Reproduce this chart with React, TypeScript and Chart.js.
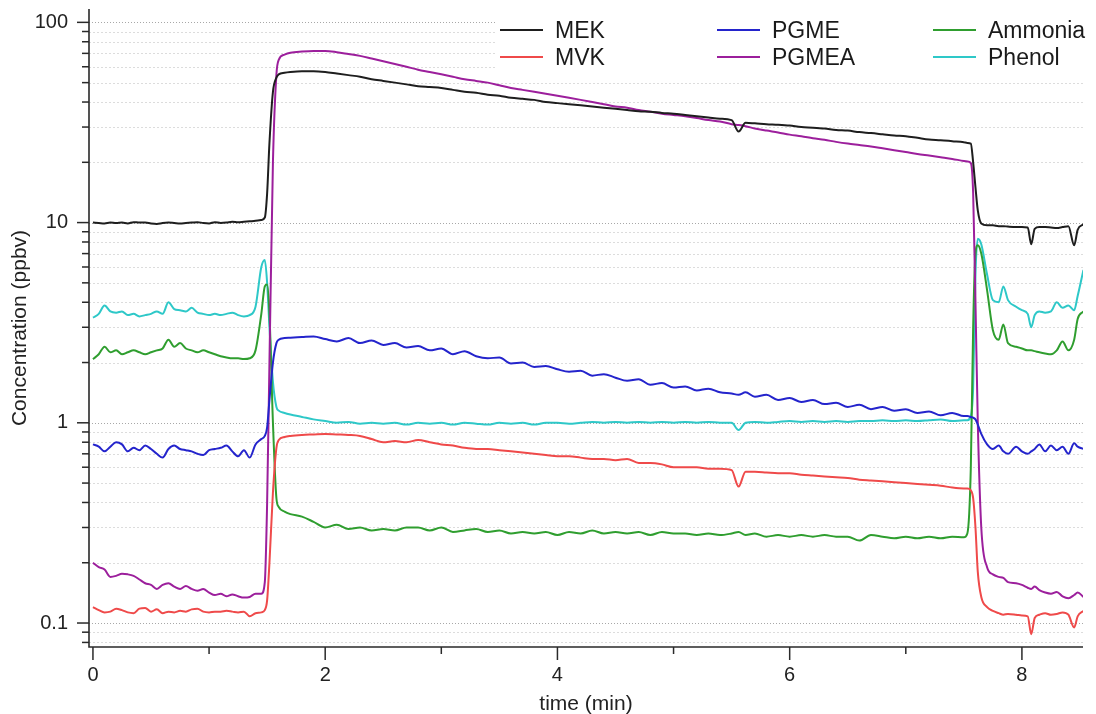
import React, { useEffect, useRef } from "react";
import { Chart, registerables } from "chart.js";

Chart.register(...registerables);

const FONT = "'Liberation Sans', Arial, Helvetica, sans-serif";

// time (min)
const time = [
  0, 0.05, 0.1, 0.15, 0.2, 0.25, 0.3, 0.35, 0.4, 0.45, 0.5, 0.55, 0.6, 0.65, 0.7, 0.75, 0.8, 0.85, 0.9, 0.95, 1, 1.05, 1.1, 1.15, 1.2, 1.25, 1.3, 1.35, 1.4,
  1.45, 1.48, 1.5, 1.52, 1.55, 1.58, 1.6, 1.65, 1.7, 1.8,
  1.9, 2, 2.1, 2.2, 2.3, 2.4, 2.5, 2.6, 2.7, 2.8, 2.9, 3, 3.1, 3.2, 3.3, 3.4, 3.5, 3.6, 3.7, 3.8, 3.9, 4, 4.1, 4.2, 4.3, 4.4, 4.5, 4.6, 4.7, 4.8, 4.9, 5, 5.1, 5.2, 5.3, 5.4,
  5.5, 5.56, 5.62, 5.7, 5.8, 5.9, 6, 6.1, 6.2, 6.3, 6.4, 6.5, 6.6, 6.7, 6.8, 6.9, 7, 7.1, 7.2, 7.3, 7.4, 7.5,
  7.53, 7.56, 7.58, 7.6, 7.62, 7.65, 7.7, 7.75, 7.8, 7.84, 7.88, 7.95, 8, 8.05, 8.08, 8.11, 8.15, 8.2, 8.25, 8.3, 8.35, 8.4, 8.45, 8.48, 8.53,
];

const mek = [
  10, 9.95, 9.9, 10, 9.95, 10, 9.9, 10.05, 10, 10, 9.9, 9.85, 9.95, 10, 9.95, 9.9, 9.95, 10, 10.05, 9.95, 9.9, 10.05, 9.95, 10, 10.1, 10.05, 10.1, 10.15, 10.2,
  10.3, 10.6, 14, 25, 45, 53, 55, 56, 56.5, 57,
  57, 56.5, 55.5, 54.5, 53.5, 52, 51, 50, 49, 48, 47.5, 47, 46, 45, 44.5, 43.5, 43, 42, 41.5, 41, 40, 39.5, 39, 38.5, 38, 37.5, 37, 36.5, 36, 35.8, 35.3, 35, 34.5, 34, 33.5, 33,
  32.5, 28.5, 31.5, 31.3, 31, 30.8, 30.5, 30, 29.8, 29.5, 29, 28.8, 28.3, 28, 27.6, 27.2, 27, 26.5, 26, 25.8, 25.5, 25.2,
  25, 24.8, 20, 15, 11.5, 9.9, 9.7, 9.7, 9.6, 9.6, 9.55, 9.5, 9.5, 9.45, 7.8, 9.3, 9.5, 9.5, 9.45, 9.4, 9.5, 9.6, 7.7, 9.2, 9.8,
];

const mvk = [
  0.12, 0.116, 0.113, 0.114, 0.118, 0.116, 0.113, 0.112, 0.118, 0.119, 0.114, 0.117, 0.112, 0.114, 0.113, 0.115, 0.114, 0.117, 0.118, 0.114, 0.113, 0.114, 0.114, 0.115, 0.114, 0.113, 0.114, 0.108, 0.112,
  0.113, 0.116, 0.13, 0.2, 0.45, 0.75, 0.82, 0.85, 0.86, 0.87,
  0.875, 0.88, 0.875, 0.87, 0.86, 0.83, 0.8, 0.81, 0.8, 0.82, 0.8, 0.78, 0.77, 0.75, 0.74, 0.74, 0.73, 0.72, 0.71, 0.7, 0.69, 0.68, 0.68, 0.67, 0.66, 0.66, 0.65, 0.66, 0.63, 0.63, 0.62, 0.6, 0.6, 0.6, 0.59, 0.59,
  0.58, 0.48, 0.57, 0.57, 0.565, 0.56, 0.56, 0.55, 0.545, 0.54, 0.535, 0.53, 0.52, 0.515, 0.51, 0.505, 0.5, 0.495, 0.49, 0.485, 0.475, 0.47,
  0.47, 0.46, 0.42, 0.3, 0.18, 0.135, 0.12, 0.115, 0.112, 0.11, 0.111, 0.11, 0.109, 0.108, 0.088, 0.106, 0.11, 0.112, 0.11, 0.111, 0.113, 0.11, 0.095, 0.108, 0.115,
];

const pgme = [
  0.78, 0.76, 0.72, 0.76, 0.8, 0.78, 0.72, 0.75, 0.73, 0.77, 0.74, 0.7, 0.67, 0.74, 0.77, 0.74, 0.73, 0.72, 0.7, 0.69, 0.73, 0.74, 0.75, 0.77, 0.72, 0.68, 0.73, 0.67, 0.78,
  0.83, 0.86, 0.95, 1.3, 2.0, 2.5, 2.6, 2.65, 2.66, 2.68,
  2.7, 2.62, 2.55, 2.65, 2.5, 2.58, 2.45, 2.5, 2.38, 2.42, 2.3, 2.35, 2.2, 2.28, 2.15, 2.1, 2.12, 1.98, 2.0, 1.9, 1.92, 1.85, 1.8, 1.82, 1.72, 1.75, 1.68, 1.62, 1.65, 1.55, 1.58, 1.5, 1.52, 1.45, 1.48, 1.42,
  1.4, 1.38, 1.42, 1.35, 1.38, 1.3, 1.33, 1.27, 1.3, 1.24, 1.26, 1.2, 1.23, 1.17, 1.2, 1.15, 1.17, 1.12, 1.14, 1.09, 1.12, 1.08,
  1.08, 1.07, 1.06, 1.04, 0.98, 0.88, 0.78, 0.74, 0.77, 0.72, 0.7, 0.76, 0.72, 0.7, 0.72, 0.74, 0.78, 0.72, 0.77, 0.73, 0.76, 0.7, 0.79, 0.76, 0.74,
];

const pgmea = [
  0.2, 0.19, 0.185, 0.17, 0.172, 0.176, 0.175, 0.172, 0.165, 0.158, 0.155, 0.148, 0.155, 0.158, 0.152, 0.148, 0.153, 0.148, 0.145, 0.148, 0.142, 0.138, 0.14, 0.136, 0.139, 0.136, 0.134, 0.135, 0.14,
  0.14, 0.16, 0.4, 2, 20, 55, 65, 69, 70.5, 71.5,
  72, 72, 71, 69.5, 68, 66, 64, 62, 60, 58, 56.5, 55, 53.5, 52, 51, 50, 48.5, 47, 46, 45, 44, 43, 42, 41, 40, 39, 38, 37.5, 36.5, 35.8, 35, 34.5, 34, 33.3, 32.5, 32,
  31, 30.7, 30.3, 29.5, 28.8, 28.2, 27.5, 27, 26.4, 25.9, 25.3, 24.8, 24.4, 24, 23.5, 23, 22.5, 22, 21.6, 21.2, 20.8, 20.3,
  20.2, 19.8, 14, 4, 1.0, 0.3, 0.19, 0.175, 0.17, 0.168, 0.16, 0.158, 0.155, 0.15, 0.148, 0.152, 0.146, 0.142, 0.14, 0.143, 0.136, 0.133, 0.138, 0.142, 0.135,
];

const ammonia = [
  2.08, 2.2, 2.4, 2.25, 2.3, 2.2, 2.25, 2.3, 2.25, 2.2, 2.25, 2.3, 2.35, 2.6, 2.4, 2.5, 2.35, 2.3, 2.25, 2.3, 2.25, 2.2, 2.15, 2.12, 2.1, 2.1, 2.08, 2.1, 2.3,
  3.5, 4.8, 4.9, 3.5, 1.0, 0.42, 0.38, 0.36, 0.35, 0.34,
  0.32, 0.3, 0.31, 0.295, 0.3, 0.29, 0.295, 0.29, 0.3, 0.3, 0.29, 0.3, 0.285, 0.29, 0.295, 0.285, 0.29, 0.28, 0.285, 0.28, 0.285, 0.275, 0.285, 0.28, 0.29, 0.28, 0.285, 0.28, 0.285, 0.275, 0.285, 0.28, 0.28, 0.275, 0.28, 0.275,
  0.28, 0.285, 0.275, 0.28, 0.27, 0.275, 0.27, 0.275, 0.27, 0.275, 0.27, 0.27, 0.258, 0.275, 0.27, 0.265, 0.27, 0.265, 0.27, 0.265, 0.27, 0.268,
  0.28, 0.6, 3.0, 7.0, 7.7, 7.0, 4.6, 2.9, 2.6, 3.1, 2.5, 2.4, 2.35, 2.3, 2.3, 2.28, 2.25, 2.22, 2.2, 2.3, 2.55, 2.3, 2.6, 3.3, 3.6,
];

const phenol = [
  3.35, 3.5, 3.85, 3.6, 3.55, 3.6, 3.45, 3.5, 3.4, 3.45, 3.5, 3.6, 3.5, 4.0, 3.7, 3.65, 3.6, 3.75, 3.55, 3.5, 3.45, 3.5, 3.45, 3.5, 3.55, 3.45, 3.4, 3.45, 3.8,
  6.0, 6.5, 5.0, 3.0, 1.6, 1.2, 1.15, 1.12, 1.1, 1.07,
  1.04, 1.02, 1.0, 1.01, 0.99, 1.0, 0.99, 1.0, 0.98, 1.0, 0.99, 1.0, 0.98, 1.0, 0.99, 0.98, 1.0, 0.99, 1.0, 0.98, 1.0, 1.0, 0.99, 1.0, 1.01, 1.0, 1.01, 1.0, 1.01, 1.0, 1.01, 1.0, 1.01, 1.0, 1.01, 1.0,
  1.0, 0.92, 1.0, 1.01, 1.0, 1.01, 1.02, 1.01, 1.02, 1.01, 1.02, 1.01, 1.02, 1.02, 1.03, 1.02, 1.03, 1.02, 1.03, 1.04, 1.02, 1.03,
  1.03, 1.08, 1.5, 5.5, 8.3, 7.8, 5.5, 4.1, 4.0, 4.8, 4.1, 3.8, 3.65, 3.5, 3.0, 3.45, 3.6, 3.55, 3.6, 4.0, 3.75, 3.85, 3.65, 4.3, 5.8,
];

const seriesNames = ["MEK", "MVK", "PGME", "PGMEA", "Ammonia", "Phenol"];
const seriesValues = [mek, mvk, pgme, pgmea, ammonia, phenol];
const seriesColors = ["#1e1e1e", "#ef4a4a", "#2424cc", "#9c1f9c", "#2f9e2f", "#2ec8c8"];

const xTickValues = [0, 2, 4, 6, 8];
const xMinorTickValues = [1, 3, 5, 7];
const yTickValues = [0.1, 1, 10, 100];

const X_MIN = -0.034;
const X_MAX = 8.526;
const Y_MIN = 0.0759;
const Y_MAX = 116.6;

// legend layout: [series index, column, row]
const legendLayout = [
  [0, 0, 0], [1, 0, 1],
  [2, 1, 0], [3, 1, 1],
  [4, 2, 0], [5, 2, 1],
];
const legendColX = [500, 717, 933];
const legendRowY = [30, 57];

function yGridValues(): number[] {
  const out: number[] = [];
  for (let e = -2; e <= 2; e++) {
    for (let m = 1; m <= 9; m++) {
      const v = Number((m * Math.pow(10, e)).toPrecision(3));
      if (v >= Y_MIN && v <= Y_MAX) out.push(v);
    }
  }
  return out;
}

const decorPlugin = {
  id: "decor",
  beforeDatasetsDraw(chart: any) {
    const { ctx, chartArea: a, scales } = chart;
    const ys = scales.y;
    ctx.save();
    for (const v of yGridValues()) {
      const y = Math.round(ys.getPixelForValue(v)) + 0.5;
      const major = yTickValues.includes(v);
      ctx.strokeStyle = major ? "#a8a8a8" : "#dcdcdc";
      ctx.lineWidth = 1;
      ctx.setLineDash(major ? [1, 2] : [2, 2]);
      ctx.beginPath();
      ctx.moveTo(a.left, y);
      ctx.lineTo(a.right, y);
      ctx.stroke();
    }
    ctx.setLineDash([]);
    // legend
    ctx.fillStyle = "#ffffff";
    ctx.fillRect(497, a.top + 1, a.right - 497, 62);
    ctx.font = `23px ${FONT}`;
    ctx.textBaseline = "alphabetic";
    ctx.textAlign = "left";
    for (const [si, col, row] of legendLayout) {
      const x0 = legendColX[col];
      const y0 = legendRowY[row];
      ctx.strokeStyle = seriesColors[si];
      ctx.lineWidth = 2;
      ctx.beginPath();
      ctx.moveTo(x0, y0);
      ctx.lineTo(x0 + 43, y0);
      ctx.stroke();
      ctx.fillStyle = "#1a1a1a";
      ctx.fillText(seriesNames[si], x0 + 55, y0 + 8);
    }
    ctx.restore();
  },
  afterDraw(chart: any) {
    const { ctx, chartArea: a, scales } = chart;
    const xs = scales.x;
    const ys = scales.y;
    ctx.save();
    ctx.strokeStyle = "#2a2a2a";
    ctx.lineWidth = 1.6;
    ctx.beginPath();
    ctx.moveTo(a.left, a.top);
    ctx.lineTo(a.left, a.bottom);
    ctx.lineTo(a.right, a.bottom);
    ctx.stroke();
    ctx.lineWidth = 1.5;
    for (const v of yGridValues()) {
      const y = ys.getPixelForValue(v);
      const major = yTickValues.includes(v);
      ctx.beginPath();
      ctx.moveTo(a.left, y);
      ctx.lineTo(a.left - (major ? 12 : 7), y);
      ctx.stroke();
    }
    for (const v of xTickValues) {
      const x = xs.getPixelForValue(v);
      ctx.beginPath();
      ctx.moveTo(x, a.bottom);
      ctx.lineTo(x, a.bottom + 13);
      ctx.stroke();
    }
    for (const v of xMinorTickValues) {
      const x = xs.getPixelForValue(v);
      ctx.beginPath();
      ctx.moveTo(x, a.bottom);
      ctx.lineTo(x, a.bottom + 7);
      ctx.stroke();
    }
    ctx.restore();
  },
};

export default function App() {
  const canvasRef = useRef<HTMLCanvasElement | null>(null);

  useEffect(() => {
    document.body.style.margin = "0";
    const canvas = canvasRef.current;
    if (!canvas) return;
    const datasets = seriesNames.map((name, i) => ({
      label: name,
      data: time.map((t, k) => ({ x: t, y: seriesValues[i][k] })),
      borderColor: seriesColors[i],
      backgroundColor: seriesColors[i],
      borderWidth: 2,
      pointRadius: 0,
      fill: false,
      cubicInterpolationMode: "monotone" as const,
    }));
    const chart = new Chart(canvas, {
      type: "line",
      data: { datasets },
      options: {
        animation: false,
        responsive: false,
        devicePixelRatio: 1,
        layout: { padding: { top: 9, right: 13, left: 0, bottom: 0 } },
        plugins: { legend: { display: false }, tooltip: { enabled: false } },
        scales: {
          x: {
            type: "linear",
            min: X_MIN,
            max: X_MAX,
            afterBuildTicks: (s: any) => {
              s.ticks = xTickValues.map((v) => ({ value: v }));
            },
            afterFit: (s: any) => {
              s.height = 67;
              s.paddingLeft = 0;
              s.paddingRight = 0;
            },
            grid: { display: false, drawTicks: false },
            border: { display: false },
            ticks: {
              padding: 16.5,
              autoSkip: false,
              maxRotation: 0,
              color: "#222",
              font: { family: FONT, size: 20 },
              callback: (v: any) => String(v),
            },
            title: {
              display: true,
              text: "time (min)",
              color: "#222",
              font: { family: FONT, size: 21, lineHeight: 0.9 },
              padding: 0,
            },
          },
          y: {
            type: "logarithmic",
            min: Y_MIN,
            max: Y_MAX,
            afterBuildTicks: (s: any) => {
              s.ticks = yTickValues.map((v) => ({ value: v }));
            },
            afterFit: (s: any) => {
              s.width = 89;
              s.paddingTop = 0;
              s.paddingBottom = 0;
            },
            grid: { display: false, drawTicks: false },
            border: { display: false },
            ticks: {
              padding: 21,
              autoSkip: false,
              color: "#222",
              font: { family: FONT, size: 20 },
              callback: (v: any) => String(Number(v)),
            },
            title: {
              display: true,
              text: "Concentration (ppbv)",
              color: "#222",
              font: { family: FONT, size: 21, lineHeight: 1.2 },
              padding: { top: 8, bottom: 0 },
            },
          },
        },
      },
      plugins: [decorPlugin],
    } as any);
    return () => chart.destroy();
  }, []);

  return (
    <div style={{ width: 1096, height: 714, position: "relative" }}>
      <canvas ref={canvasRef} width={1096} height={714} style={{ display: "block" }} />
    </div>
  );
}
